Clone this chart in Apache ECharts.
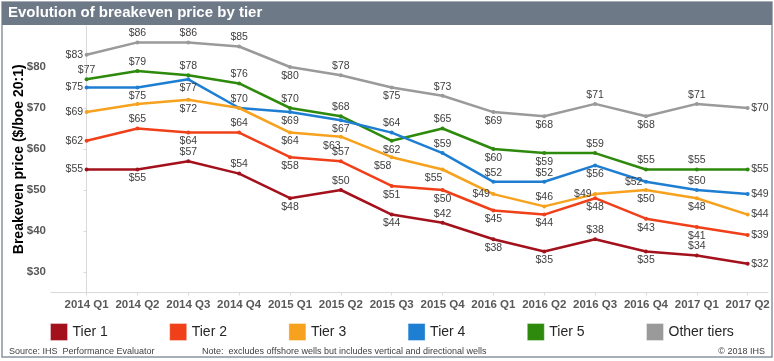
<!DOCTYPE html>
<html><head><meta charset="utf-8">
<script src="https://cdn.jsdelivr.net/npm/echarts@6/dist/echarts.min.js"></script>
<style>html,body{margin:0;padding:0;background:#fff}#c{width:774px;height:361px}</style>
</head><body><div id="c"></div>
<script>
const categories = ['2014 Q1','2014 Q2','2014 Q3','2014 Q4','2015 Q1','2015 Q2','2015 Q3','2015 Q4','2016 Q1','2016 Q2','2016 Q3','2016 Q4','2017 Q1','2017 Q2'];
const tier1 = [55,55,57,54,48,50,44,42,38,35,38,35,34,32];
const tier2 = [62,65,64,64,58,57,51,50,45,44,48,43,41,39];
const tier3 = [69,71,72,70,64,63,58,55,49,46,49,50,48,44];
const tier4 = [75,75,77,70,69,67,64,59,52,52,56,52,50,49];
const tier5 = [77,79,78,76,70,68,62,65,60,59,59,55,55,55];
const otherTiers = [83,86,86,85,80,78,75,73,69,68,71,68,71,70];
const yTicks = [30,40,50,60,70,80];
const seriesNames = ['Tier 1','Tier 2','Tier 3','Tier 4','Tier 5','Other tiers'];

// label placement (L=left, T=top, B=bottom, b=bottom-left, R=right, N=none)
const pos1 = 'LBTTBTBTBBTBTR';
const pos2 = 'LTBTBTBBBBBBBR';
const pos3 = 'LNBNBbbbLTLBBR';
const pos4 = 'LBBTBBTTTTBLTR';
const pos5 = 'TTTTTTBTBBTTTR';
const pos6 = 'LTTTBTBTBBTBTR';

const colors = ['#a3121c','#f0401a','#f7a21e','#1e7ed2','#2e8a0c','#9a9a9a'];
const allData = [tier1,tier2,tier3,tier4,tier5,otherTiers];
const allPos = [pos1,pos2,pos3,pos4,pos5,pos6];
const posMap = {L:'left',T:'top',B:'bottom',b:'bottom',R:'right'};

const series = allData.map((d,si)=>({
  name: seriesNames[si],
  type: 'line',
  z: 10 - si,
  data: d.map((v,i)=>{
    const p = allPos[si][i];
    if (p === 'N') return {value:[i,v], label:{show:false}};
    const lab = {show:true, position: posMap[p]};
    if (p === 'b') lab.offset = [-9, 0];
    return {value:[i,v], label: lab};
  }),
  symbol: 'circle',
  symbolSize: 4,
  lineStyle: {width: 2.5, color: colors[si]},
  itemStyle: {color: colors[si]},
  label: {show:true, formatter: p=>'$'+p.value[1], fontSize: 10.5, color:'#404040', distance: 1.5, fontFamily:'Liberation Sans, Arial'},
  emphasis: {disabled:true},
  animation: false
}));

const legends = seriesNames.map((n,i)=>({
  data: [{name:n, itemStyle:{borderColor:'rgba(255,255,255,0.35)', borderWidth:1}}],
  left: 45 + i*119.2, top: 318,
  itemWidth: 17, itemHeight: 17, icon: 'rect',
  textStyle: {fontSize: 14, color:'#262626', fontFamily:'Liberation Sans, Arial'},
  selectedMode: false
}));

const chart = echarts.init(document.getElementById('c'));
chart.setOption({
  animation: false,
  color: colors,
  grid: {left: 51, right: 6, top: 26, bottom: 68.5, containLabel: false},
  xAxis: {
    type: 'value', min: -0.7, max: 13.4,
    axisLine: {show:true, onZero:false, lineStyle:{color:'#d9d9d9'}},
    axisTick: {show:true, length:3, lineStyle:{color:'#d9d9d9'}, customValues: categories.map((c,i)=>i)},
    splitLine: {show:false},
    axisLabel: {customValues: categories.map((c,i)=>i), formatter: v=>categories[Math.round(v)], fontSize: 11.5, fontWeight:'bold', color:'#595959', margin: 6, fontFamily:'Liberation Sans, Arial'}
  },
  yAxis: {
    type: 'value', min: 25, max: 90,
    name: 'Breakeven price ($/boe 20:1)', nameLocation: 'middle', nameGap: 25, nameMoveOverlap: false,
    nameTextStyle: {fontSize: 14, fontWeight:'bold', color:'#000', fontFamily:'Liberation Sans, Arial'},
    axisLine: {show:true, lineStyle:{color:'#d9d9d9'}},
    axisTick: {show:true, length:3, lineStyle:{color:'#d9d9d9'}, customValues: yTicks},
    splitLine: {show:false},
    axisLabel: {customValues: yTicks, formatter: v=>'$'+v, fontSize: 11.5, fontWeight:'bold', color:'#595959', margin: 5, fontFamily:'Liberation Sans, Arial'}
  },
  legend: legends,
  series: series,
  graphic: [
    {type:'rect', shape:{x:2, y:2, width:770, height:355}, style:{fill:'none', stroke:'#8a94a0', lineWidth:1.5}, z:100},
    {type:'rect', shape:{x:2, y:2, width:770, height:23}, style:{fill:'#6e7987'}, z:101},
    {type:'text', left: 8, top: 5, style:{text:'Evolution of breakeven price by tier', fill:'#fff', font:'bold 15px "Liberation Sans", Arial'}, z:102},
    {type:'text', left: 9, top: 347, style:{text:'Source: IHS  Performance Evaluator', fill:'#404040', font:'9px "Liberation Sans", Arial'}, z:102},
    {type:'text', left: 202, top: 347, style:{text:'Note:  excludes offshore wells but includes vertical and directional wells', fill:'#404040', font:'9px "Liberation Sans", Arial'}, z:102},
    {type:'text', right: 9, top: 347, style:{text:'© 2018 IHS', fill:'#404040', font:'9px "Liberation Sans", Arial'}, z:102}
  ]
});
</script></body></html>
